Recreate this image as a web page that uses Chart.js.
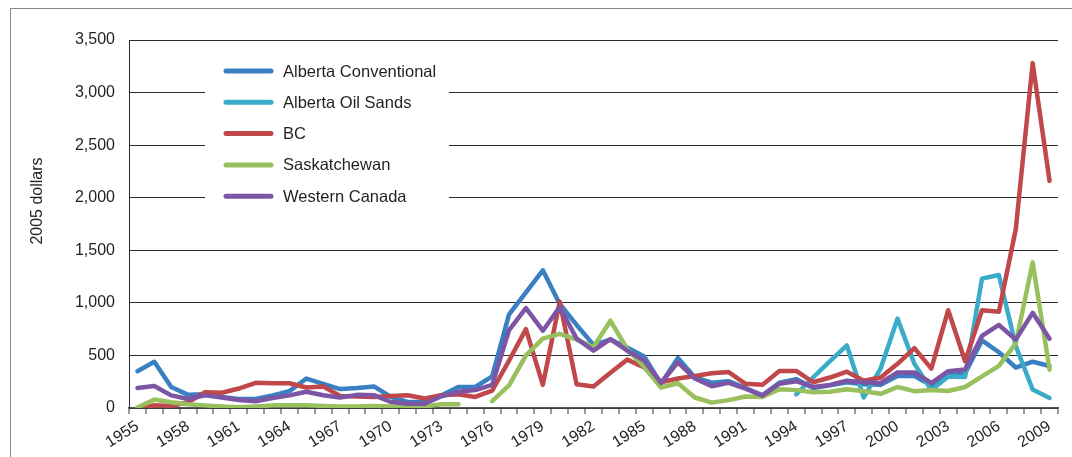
<!DOCTYPE html>
<html>
<head>
<meta charset="utf-8">
<script src="https://cdn.jsdelivr.net/npm/chart.js@4.4.1/dist/chart.umd.min.js"></script>
<style>
  body { margin: 0; background: #fff; }
  #wrap { position: relative; width: 1072px; height: 457px; overflow: hidden; }
  #frame { position: absolute; left: 10px; top: 8px; width: 1100px; height: 500px; border: 1.5px solid #8a8a8a; }
  canvas { position: absolute; left: 0; top: 0; }
</style>
</head>
<body>
<div id="wrap">
  <div id="frame"></div>
  <canvas id="myChart" width="1072" height="457"></canvas>
</div>
<script>
const years = [];
for (let y = 1955; y <= 2009; y++) years.push(String(y));

const albertaConventional = [
  350, 440, 200, 125, 130, 105, 85, 85, 120, 160,
  280, 230, 180, 190, 205, 105, 57, 57, 122, 200,
  200, 300, 890, 1100, 1310, 990, 790, 600, 650, 575,
  490, 230, 475, 290, 240, 255, 190, 120, 240, 275,
  190, 215, 245, 225, 220, 305, 305, 215, 310, 330,
  643, 530, 385, 440, 400,
];

const albertaOilSands = [
  null, null, null, null, null, null, null, null, null, null,
  null, null, null, null, null, null, null, null, null, null,
  null, null, null, null, null, null, null, null, null, null,
  null, null, null, null, null, null, null, null, null, 130,
  290, 445, 595, 100, 375, 850, 420, 170, 300, 295,
  1230, 1265, 590, 175, 95,
];

const bc = [
  0, 25, 20, 55, 150, 145, 185, 240, 235, 235,
  195, 205, 115, 110, 105, 115, 122, 90, 122, 131,
  105, 165, 450, 750, 220, 1010, 225, 205, 336, 460,
  385, 245, 280, 305, 330, 342, 230, 220, 352, 352,
  245, 290, 345, 260, 290, 420, 570, 375, 930, 445,
  930, 915, 1700, 3280, 2160,
];

const saskatchewan = [
  5, 80, 55, 35, 25, 15, 8, 15, 25, 25,
  25, 20, 15, 15, 20, 15, 8, 15, 35, 35,
  null, 65, 215, 500, 660, 705, 650, 580, 830, 560,
  390, 195, 235, 100, 51, 75, 110, 105, 178, 170,
  150, 155, 178, 160, 135, 200, 160, 172, 162, 200,
  300, 400, 615, 1385, 365,
];

const westernCanada = [
  190, 210, 120, 85, 120, 100, 75, 65, 95, 120,
  155, 122, 100, 125, 122, 57, 41, 41, 112, 154,
  170, 220, 740, 950, 735, 960, 660, 546, 655, 545,
  450, 240, 435, 280, 207, 240, 185, 118, 230, 255,
  200, 220, 260, 245, 238, 338, 338, 238, 350, 367,
  686, 790, 650, 905, 658,
];

const seriesNames = ["Alberta Conventional", "Alberta Oil Sands", "BC", "Saskatchewan", "Western Canada"];
const seriesColors = ["#3a7fc2", "#3aacc9", "#c0474a", "#98c05c", "#7c56a4"];
const seriesData = [albertaConventional, albertaOilSands, bc, saskatchewan, westernCanada];

const FONT = "'Liberation Sans', Arial, sans-serif";

// white legend box in the upper left of the plot, over the grid
const boxLegend = {
  id: "boxLegend",
  beforeDatasetsDraw(chart) {
    const ctx = chart.ctx;
    ctx.save();
    ctx.fillStyle = "#fff";
    ctx.fillRect(205, 46, 244, 166);
    chart.data.datasets.forEach((ds, i) => {
      const y = 71 + i * 31.3;
      ctx.strokeStyle = ds.borderColor;
      ctx.lineWidth = 5;
      ctx.lineCap = "round";
      ctx.beginPath();
      ctx.moveTo(226, y);
      ctx.lineTo(271, y);
      ctx.stroke();
      ctx.fillStyle = "#231f20";
      ctx.font = "16.5px " + FONT;
      ctx.textBaseline = "middle";
      ctx.textAlign = "left";
      ctx.fillText(ds.label, 283, y + 1);
    });
    ctx.restore();
  },
  afterDraw(chart) {
    const ctx = chart.ctx;
    ctx.save();
    ctx.translate(38, 201);
    ctx.rotate(-Math.PI / 2);
    ctx.fillStyle = "#231f20";
    ctx.font = "16px " + FONT;
    ctx.textAlign = "center";
    ctx.textBaseline = "middle";
    ctx.fillText("2005 dollars", 0, 0);
    ctx.restore();
  },
};

const ctx = document.getElementById("myChart").getContext("2d");

new Chart(ctx, {
  type: "line",
  data: {
    labels: years,
    datasets: seriesData.map((data, i) => ({
      label: seriesNames[i],
      data,
      borderColor: seriesColors[i],
      backgroundColor: seriesColors[i],
      borderWidth: 4.5,
      borderCapStyle: "round",
      borderJoinStyle: "round",
      pointRadius: 0,
      tension: 0,
      spanGaps: false,
      order: seriesData.length - i,
    })),
  },
  options: {
    responsive: false,
    animation: false,
    layout: { padding: { top: 40, right: 14, left: 0, bottom: 0 } },
    plugins: {
      legend: { display: false },
      tooltip: { enabled: false },
    },
    scales: {
      x: {
        type: "category",
        offset: true,
        afterFit: (scale) => { scale.height = 49; },
        grid: {
          offset: true,
          drawOnChartArea: false,
          drawTicks: true,
          tickLength: 6,
          color: "#9a9a9a",
          lineWidth: 2,
        },
        border: { color: "#555", width: 1.5 },
        ticks: {
          autoSkip: false,
          minRotation: 32,
          maxRotation: 32,
          padding: 3,
          color: "#231f20",
          font: { family: FONT, size: 16 },
          callback: (v, i) => (i % 3 === 0 ? years[i] : ""),
        },
      },
      y: {
        min: 0,
        max: 3500,
        afterFit: (scale) => { scale.width = 129; },
        grid: { color: "#2a2a2a", lineWidth: 1, drawTicks: false },
        border: { color: "#2a2a2a", width: 1 },
        ticks: {
          stepSize: 500,
          padding: 14,
          color: "#231f20",
          font: { family: FONT, size: 16 },
        },
      },
    },
  },
  plugins: [boxLegend],
});
</script>
</body>
</html>
